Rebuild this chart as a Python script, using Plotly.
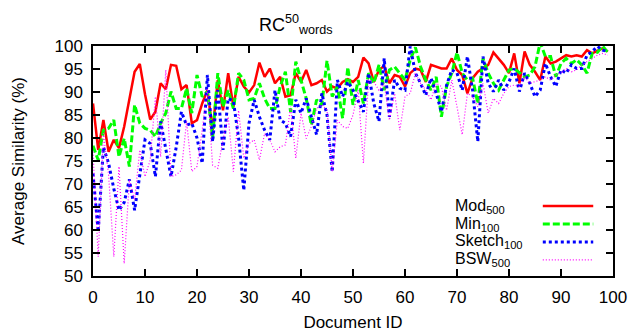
import plotly.graph_objects as go

doc_ids = list(range(100))

mod500 = [87.5, 77.4, 83.9, 77.0, 79.6, 77.8, 82.5, 88.3, 94.4, 96.1,
          89.5, 84.0, 85.7, 91.9, 90.6, 95.9, 95.7, 90.6, 91.5, 83.2,
          83.9, 87.5, 90.4, 81.7, 92.6, 86.0, 94.1, 86.8, 93.3, 91.2,
          89.9, 91.5, 96.4, 93.3, 95.1, 91.9, 93.3, 89.0, 89.3, 94.1,
          92.2, 94.8, 91.5, 91.9, 92.6, 90.1, 91.2, 90.8, 92.2, 92.8,
          92.2, 93.3, 97.5, 96.2, 92.2, 94.8, 95.7, 91.9, 93.7, 93.3,
          91.2, 94.1, 95.1, 94.8, 92.2, 95.9, 95.5, 95.1, 95.1, 97.3,
          94.8, 93.7, 89.7, 93.0, 94.4, 95.1, 95.9, 98.6, 97.3, 95.9,
          94.1, 98.4, 91.9, 98.8, 95.9, 94.4, 92.6, 97.7, 96.2, 96.6,
          97.3, 98.0, 97.7, 98.0, 97.7, 99.1, 98.4, 99.0, 99.5, 98.8]

min100 = [78.3, 75.2, 81.7, 82.1, 83.9, 75.9, 79.9, 73.8, 87.2, 83.2,
          82.1, 81.7, 80.3, 83.2, 85.4, 90.1, 86.4, 86.4, 90.8, 85.4,
          93.7, 89.0, 90.1, 79.9, 94.1, 86.8, 90.4, 86.4, 94.1, 92.6,
          88.3, 88.6, 91.9, 88.6, 86.4, 86.4, 91.2, 94.4, 85.7, 96.6,
          92.6, 88.6, 82.8, 88.3, 87.2, 96.8, 89.0, 91.2, 84.3, 95.4,
          87.2, 92.6, 87.5, 94.1, 91.9, 95.9, 90.4, 94.8, 95.5, 94.1,
          92.6, 97.0, 99.7, 95.5, 92.6, 90.4, 93.3, 84.6, 91.2, 94.1,
          98.6, 94.1, 92.6, 93.0, 87.5, 97.3, 94.1, 91.9, 90.4, 92.6,
          94.8, 95.1, 94.1, 93.3, 93.7, 95.5, 100.8, 97.7, 97.7, 93.3,
          96.2, 97.3, 96.2, 97.0, 95.9, 94.1, 98.4, 98.6, 100.0, 98.6]

sketch100 = [72.3, 59.6, 78.0, 74.5, 69.0, 64.3, 66.0, 71.0, 64.3, 72.0,
             79.6, 78.8, 71.6, 83.6, 78.0, 71.6, 78.0, 85.7, 82.8, 83.2,
             80.0, 74.5, 93.7, 79.2, 90.4, 77.4, 88.6, 88.0, 80.0, 68.6,
             83.2, 88.3, 84.6, 81.7, 79.6, 90.4, 83.9, 83.2, 80.3, 88.3,
             85.4, 88.6, 84.6, 80.7, 89.7, 85.0, 72.6, 92.6, 89.0, 92.2,
             90.4, 88.0, 85.7, 94.1, 87.5, 83.6, 97.3, 84.6, 92.6, 90.8,
             90.4, 99.9, 94.1, 91.9, 89.3, 93.0, 89.7, 85.7, 91.5, 94.8,
             94.1, 90.4, 97.7, 90.4, 79.2, 97.7, 91.9, 90.1, 92.6, 90.4,
             92.2, 95.1, 90.1, 94.1, 91.9, 89.0, 90.4, 96.2, 93.3, 91.2,
             94.8, 94.1, 95.9, 95.1, 95.1, 98.0, 98.8, 99.9, 99.1, 98.8]

bsw500 = [77.0, 54.2, 81.0, 72.0, 54.2, 73.8, 52.7, 70.9, 66.5, 77.4,
          71.6, 75.2, 89.0, 75.9, 94.8, 71.6, 72.0, 73.0, 83.6, 72.7,
          73.8, 81.7, 90.8, 74.1, 73.4, 79.6, 84.6, 72.7, 86.0, 75.6,
          78.8, 79.6, 75.2, 81.0, 79.6, 77.0, 78.1, 78.5, 86.8, 75.6,
          85.4, 79.9, 82.5, 86.4, 87.2, 86.1, 72.7, 83.9, 82.5, 82.1,
          85.0, 90.4, 74.5, 92.6, 92.2, 90.4, 91.9, 83.9, 89.7, 81.7,
          89.0, 89.7, 94.1, 91.9, 90.4, 88.3, 91.9, 91.2, 86.0, 92.6,
          86.8, 80.7, 89.7, 89.0, 86.8, 91.9, 85.4, 88.6, 87.5, 89.7,
          91.2, 91.5, 91.2, 93.3, 91.9, 92.2, 92.6, 93.3, 92.6, 93.7,
          94.1, 95.1, 94.4, 94.8, 95.9, 96.6, 97.3, 98.0, 98.4, 98.0]

series_names = ["Mod<sub>500</sub>", "Min<sub>100</sub>", "Sketch<sub>100</sub>", "BSW<sub>500</sub>"]
series_values = [mod500, min100, sketch100, bsw500]
colors = ["#ff0000", "#00ff00", "#0000ff", "#ff00ff"]
widths = [2.5, 3, 3, 1.2]
dashes = ["solid", "7px,3px", "3px,3px", "1px,2px"]

FONT = "Liberation Sans, Arial, sans-serif"

fig = go.Figure()
for name, vals, c, w, d in zip(series_names, series_values, colors, widths, dashes):
    fig.add_trace(go.Scatter(x=doc_ids, y=vals, mode="lines", name=name,
                             line=dict(color=c, width=w, dash=d),
                             showlegend=False))

# manual key (text left, sample right) like the original
key_y = [0.304, 0.226, 0.148, 0.070]
for name, c, w, d, ky in zip(series_names, colors, widths, dashes, key_y):
    fig.add_annotation(x=0.692, y=ky, xref="paper", yref="paper", text=name,
                       showarrow=False, xanchor="left", yanchor="middle",
                       font=dict(family=FONT, size=16, color="black"))
    fig.add_shape(type="line", xref="paper", yref="paper",
                  x0=0.865, x1=0.962, y0=ky, y1=ky,
                  line=dict(color=c, width=w, dash=d))

fig.add_annotation(x=0.39, y=1.03, xref="paper", yref="paper",
                   text="RC<sup>50</sup><sub>words</sub>", showarrow=False,
                   xanchor="center", yanchor="bottom",
                   font=dict(family=FONT, size=18, color="black"))

axis_common = dict(showline=True, linecolor="black", linewidth=1.5, mirror="ticks",
                   ticks="inside", ticklen=7, tickwidth=1.5, tickcolor="black",
                   showgrid=False, zeroline=False, automargin=False,
                   tickfont=dict(family=FONT, size=17, color="black"))

fig.update_xaxes(range=[0, 100], dtick=10, tick0=0, ticklabelstandoff=5,
                 title=dict(text="Document ID", font=dict(family=FONT, size=17, color="black"), standoff=10),
                 **axis_common)
fig.update_yaxes(range=[50, 100], dtick=5, tick0=50, ticklabelstandoff=5,
                 title=dict(text="Average Similarity (%)", font=dict(family=FONT, size=17, color="black"), standoff=26),
                 **axis_common)

fig.update_layout(width=633, height=332, margin=dict(l=93, r=20, t=46, b=56),
                  paper_bgcolor="white", plot_bgcolor="white",
                  font=dict(family=FONT, color="black"))

fig.write_html("out.html")
